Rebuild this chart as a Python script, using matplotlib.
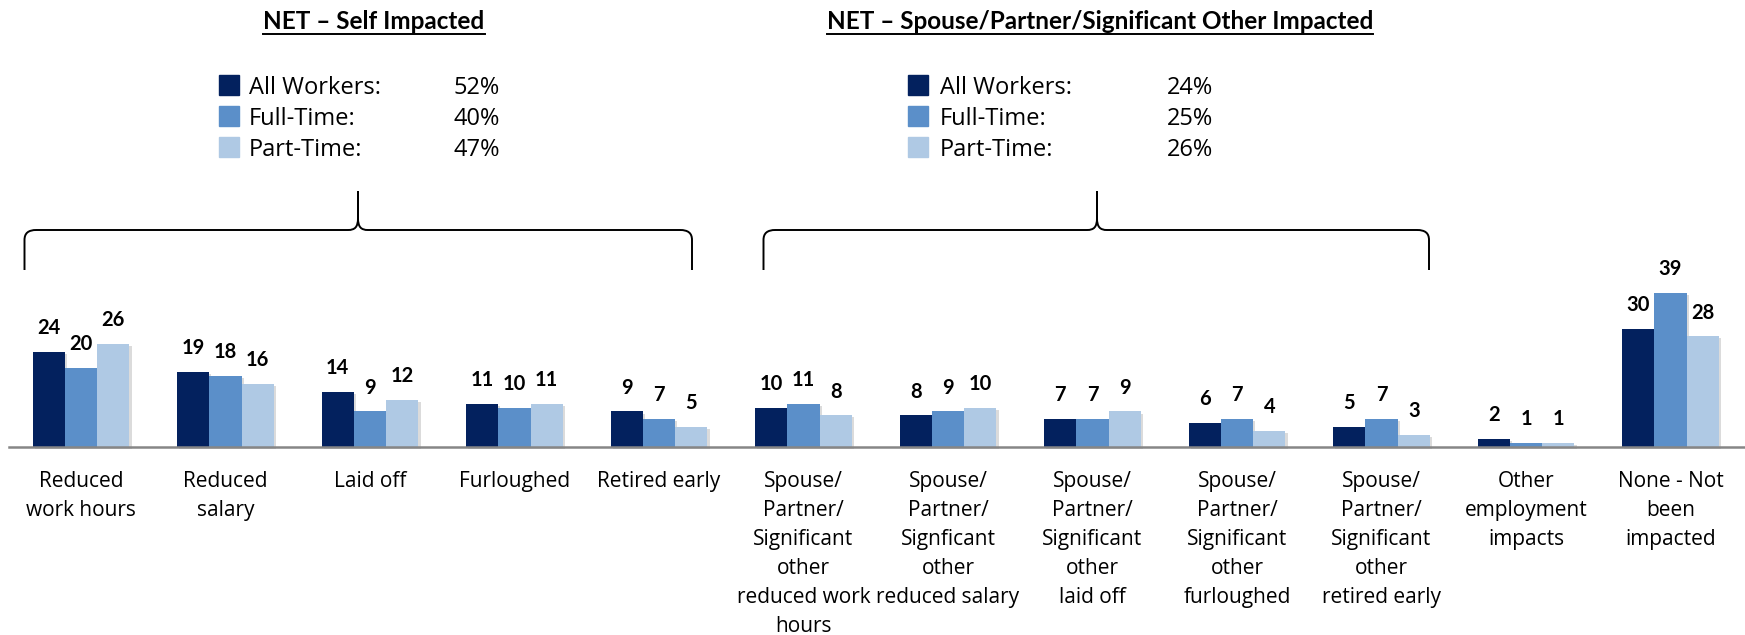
import matplotlib
matplotlib.use("Agg")
import matplotlib.pyplot as plt
import matplotlib.patheffects as pe
import numpy as np
from matplotlib.path import Path
from matplotlib.patches import PathPatch, Rectangle
from matplotlib.lines import Line2D

# ---------------- data ----------------
categories = [
    "Reduced\nwork hours",
    "Reduced\nsalary",
    "Laid off",
    "Furloughed",
    "Retired early",
    "Spouse/\nPartner/\nSignificant\nother\nreduced work\nhours",
    "Spouse/\nPartner/\nSignficant\nother\nreduced salary",
    "Spouse/\nPartner/\nSignificant\nother\nlaid off",
    "Spouse/\nPartner/\nSignificant\nother\nfurloughed",
    "Spouse/\nPartner/\nSignificant\nother\nretired early",
    "Other\nemployment\nimpacts",
    "None - Not\nbeen\nimpacted",
]
all_workers = [24, 19, 14, 11, 9, 10, 8, 7, 6, 5, 2, 30]
full_time = [20, 18, 9, 10, 7, 11, 9, 7, 7, 7, 1, 39]
part_time = [26, 16, 12, 11, 5, 8, 10, 9, 4, 3, 1, 28]
series_names = ["All Workers:", "Full-Time:", "Part-Time:"]
net_self = ["52%", "40%", "47%"]
net_spouse = ["24%", "25%", "26%"]
titles = ["NET – Self Impacted", "NET – Spouse/Partner/Significant Other Impacted"]
colors = ["#03215E", "#5B8FC9", "#AFC9E4"]

BOLD_FONT = ["Lato", "DejaVu Sans"]
REG_FONT = ["Open Sans", "DejaVu Sans"]
plt.rcParams["font.family"] = REG_FONT

# ---------------- layout (pixels) ----------------
W, H = 1745, 635
group_px = 144.5
first_center_px = 81
baseline_px = 447
unit_px = 3.95

fig = plt.figure(figsize=(W / 100, H / 100), dpi=100)
ax = fig.add_axes([0, 0, 1, 1])
xmin = -first_center_px / group_px
xmax = xmin + W / group_px
ax.set_xlim(xmin, xmax)
ax.set_ylim(-(H - baseline_px) / unit_px, baseline_px / unit_px)
ax.axis("off")


def fx(px):
    return px / W


def fy(py):
    return 1 - py / H


# ---------------- bars ----------------
x = np.arange(len(categories))
bw = 0.2235
shadow = [pe.SimplePatchShadow(offset=(1.5, -1.5), shadow_rgbFace="#9a9a9a", alpha=0.35),
          pe.Normal()]
for k, (vals, c) in enumerate(zip([all_workers, full_time, part_time], colors)):
    cont = ax.bar(x + (k - 1) * bw, vals, bw, color=c, zorder=3)
    for p in cont.patches:
        p.set_path_effects(shadow)
    ax.bar_label(cont, padding=10, fontsize=14.5, fontweight="bold", color="black",
                 family=BOLD_FONT)

ax.axhline(0, xmin=9 / W, xmax=1, color="#868686", lw=1.8, zorder=4)

# category labels: each line placed on its own baseline
first_line_px = 487
pitch_px = 29
for i, lab in enumerate(categories):
    for j, line in enumerate(lab.split("\n")):
        ypx = first_line_px + j * pitch_px
        ax.text(i, -(ypx - baseline_px) / unit_px, line, ha="center", va="baseline",
                fontsize=15, color="black")

# ---------------- titles ----------------
fig.canvas.draw()
renderer = fig.canvas.get_renderer()
for title, cx in zip(titles, [374, 1100]):
    t = fig.text(fx(cx), fy(29), title, ha="center", va="baseline",
                 fontsize=17.5, fontweight="bold", family=BOLD_FONT)
    bb = t.get_window_extent(renderer=renderer)
    yline = fy(33.5)
    fig.add_artist(Line2D([bb.x0 / W, bb.x1 / W], [yline, yline],
                          transform=fig.transFigure, color="black", lw=1.4))

# ---------------- legends ----------------
rows_px = [85, 116, 147]
for (sq_x, txt_x, pct_x, pcts) in [(219, 249, 453, net_self), (908, 940, 1167, net_spouse)]:
    for r, (name, c, p) in enumerate(zip(series_names, colors, pcts)):
        y = rows_px[r]
        fig.add_artist(Rectangle((fx(sq_x), fy(y + 10)), 20 / W, 20 / H,
                                 transform=fig.transFigure, color=c))
        fig.text(fx(txt_x), fy(y), name, ha="left", va="center_baseline", fontsize=17)
        fig.text(fx(pct_x), fy(y), p, ha="left", va="center_baseline", fontsize=17)

# ---------------- braces ----------------
def brace(x0, x1, xc, y_h=230, y_bot=270, y_top=191):
    verts = [
        (x0, y_bot), (x0, y_h + 10),
        (x0, y_h + 3), (x0 + 4, y_h), (x0 + 12, y_h),
        (xc - 10, y_h),
        (xc - 3, y_h), (xc, y_h - 3), (xc, y_h - 12),
        (xc, y_top),
        (x1, y_bot), (x1, y_h + 10),
        (x1, y_h + 3), (x1 - 4, y_h), (x1 - 12, y_h),
        (xc + 10, y_h),
        (xc + 3, y_h), (xc, y_h - 3), (xc, y_h - 12),
        (xc, y_top),
    ]
    codes = [Path.MOVETO, Path.LINETO, Path.CURVE4, Path.CURVE4, Path.CURVE4,
             Path.LINETO, Path.CURVE4, Path.CURVE4, Path.CURVE4, Path.LINETO] * 2
    verts = [(fx(a), fy(b)) for a, b in verts]
    fig.add_artist(PathPatch(Path(verts, codes), transform=fig.transFigure,
                             fill=False, lw=1.4, edgecolor="black"))


brace(24.5, 692, 358)
brace(763.5, 1429, 1097)

fig.savefig("out.png", dpi=100)
